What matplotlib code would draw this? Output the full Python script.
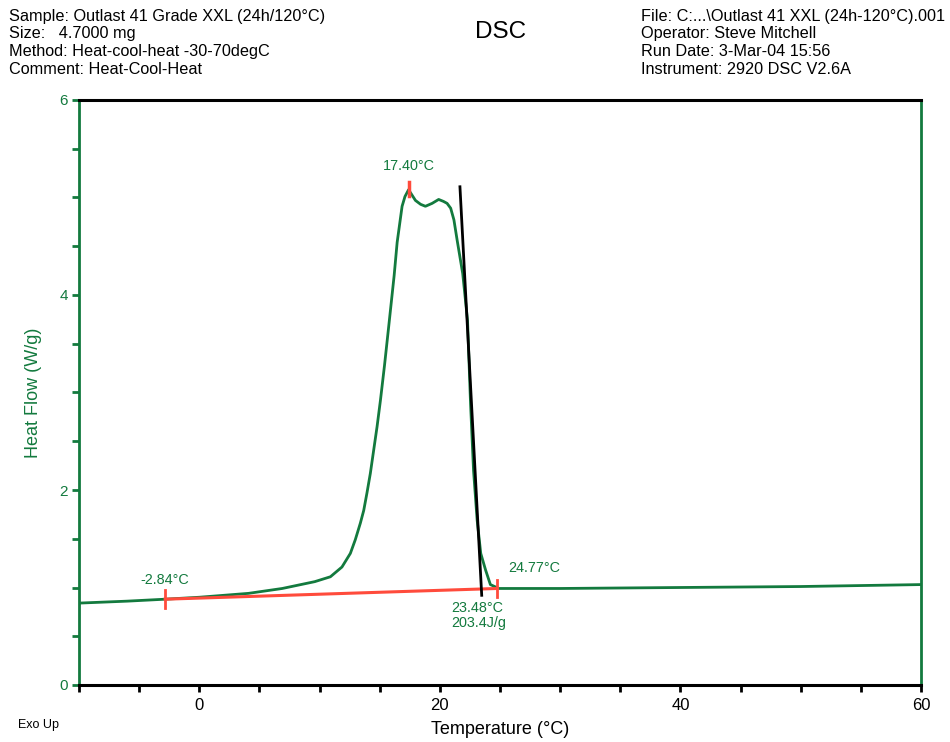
import matplotlib
matplotlib.use("Agg")
import matplotlib.pyplot as plt
from matplotlib.ticker import MultipleLocator
from matplotlib import font_manager

# ---- data ----
temperature = [-10, -6, -2.84, 0, 4.1, 6.9, 9.6, 10.9, 11.86, 12.56, 12.97, 13.39, 13.67,
               13.94, 14.22, 14.5, 14.78, 15.06, 15.4, 15.75, 16.2, 16.45, 16.86, 17.1,
               17.4, 17.97, 18.4, 18.8, 19.36, 19.9, 20.3, 20.6, 20.9, 21.17, 21.44,
               21.9, 22.3, 22.55, 22.8, 23.1, 23.4, 23.8, 24.2, 24.9, 30, 40, 50, 60]
heat_flow = [0.84, 0.86, 0.88, 0.90, 0.94, 0.99, 1.06, 1.11, 1.21, 1.35, 1.49, 1.66, 1.79,
             1.97, 2.17, 2.41, 2.65, 2.92, 3.28, 3.68, 4.20, 4.54, 4.91, 5.01,
             5.08, 4.97, 4.93, 4.91, 4.94, 4.98, 4.96, 4.94, 4.89, 4.77, 4.56,
             4.22, 3.74, 2.89, 2.2, 1.69, 1.35, 1.18, 1.03, 0.99, 0.99, 1.0, 1.01, 1.03]
baseline_T = [-2.84, 24.77]
baseline_HF = [0.88, 0.99]
tangent_T = [21.67, 23.48]
tangent_HF = [5.11, 0.92]
peak_T, peak_HF = 17.40, 5.09
x_ticks = [0, 20, 40, 60]
y_ticks = [0, 2, 4, 6]
header_left = ["Sample: Outlast 41 Grade XXL (24h/120°C)", "Size:   4.7000 mg",
               "Method: Heat-cool-heat -30-70degC", "Comment: Heat-Cool-Heat"]
header_right = ["File: C:...\\Outlast 41 XXL (24h-120°C).001", "Operator: Steve Mitchell",
                "Run Date: 3-Mar-04 15:56", "Instrument: 2920 DSC V2.6A"]

GREEN = "#137a3e"
RED = "#ff4b3c"

names = {f.name for f in font_manager.fontManager.ttflist}
main_font = "Liberation Sans" if "Liberation Sans" in names else "DejaVu Sans"
narrow_font = "Liberation Sans Narrow" if "Liberation Sans Narrow" in names else main_font
plt.rcParams['font.family'] = [main_font, 'DejaVu Sans']

fig = plt.figure(figsize=(9.5, 7.42), dpi=100)
ax = fig.add_axes([79/950, 57/742, 842/950, 585/742])

ax.plot(temperature, heat_flow, color=GREEN, lw=2, zorder=3,
        solid_joinstyle='round', solid_capstyle='round')
ax.plot(baseline_T, baseline_HF, color=RED, lw=2.2, zorder=4)
for t, h in zip(baseline_T, baseline_HF):
    ax.plot([t, t], [h - 0.09, h + 0.09], color=RED, lw=2, zorder=4)
ax.plot([peak_T, peak_T], [peak_HF - 0.07, peak_HF + 0.07], color=RED, lw=2.5, zorder=4)
ax.plot(tangent_T, tangent_HF, color="black", lw=2, zorder=5)

ax.set_xlim(-10, 60)
ax.set_ylim(0, 6)
ax.xaxis.set_minor_locator(MultipleLocator(5))
ax.yaxis.set_minor_locator(MultipleLocator(0.5))
ax.set_xticks(x_ticks)
ax.set_yticks(y_ticks)

ax.tick_params(axis='x', which='both', direction='out', length=5, width=2, colors='black',
               labelsize=12, pad=4)
ax.tick_params(axis='y', which='both', direction='out', length=5, width=2, colors=GREEN,
               labelsize=11, pad=3)
for lab in ax.get_xticklabels():
    lab.set_family([narrow_font, 'DejaVu Sans'])

for s in ['top', 'bottom']:
    ax.spines[s].set_color('black')
    ax.spines[s].set_linewidth(2.2)
for s in ['left', 'right']:
    ax.spines[s].set_color(GREEN)
    ax.spines[s].set_linewidth(2)

ax.set_ylabel("Heat Flow (W/g)", color=GREEN, fontsize=13)
ax.yaxis.set_label_coords(-(79 - 33) / 842, 0.5)
ax.yaxis.label.set_va('center')
ax.set_xlabel("Temperature (°C)", color='black', fontsize=13)
ax.xaxis.set_label_coords(0.5, -(729 - 685) / 585)
ax.xaxis.label.set_va('center')

# annotations
ax.annotate("17.40°C", xy=(peak_T, peak_HF), xytext=(0, 11), textcoords='offset points',
            ha='center', va='bottom', color=GREEN, fontsize=10.4)
ax.annotate("-2.84°C", xy=(baseline_T[0], baseline_HF[0]), xytext=(0, 9),
            textcoords='offset points', ha='center', va='bottom', color=GREEN, fontsize=10.4)
ax.annotate("24.77°C", xy=(baseline_T[1], baseline_HF[1]), xytext=(8, 10),
            textcoords='offset points', ha='left', va='bottom', color=GREEN, fontsize=10.4)
ax.annotate("23.48°C\n203.4J/g", xy=(tangent_T[1], 0.985), xytext=(-22, -9),
            textcoords='offset points', ha='left', va='top', color=GREEN, fontsize=10.4,
            linespacing=1.05)

# header
for i, line in enumerate(header_left):
    fig.text(9/950, 1 - (16 + 17.8 * i)/742, line, ha='left', va='center', fontsize=11.7)
for i, line in enumerate(header_right):
    fig.text(641/950, 1 - (16 + 17.8 * i)/742, line, ha='left', va='center', fontsize=11.7)
fig.text(501/950, 1 - 32/742, "DSC", ha='center', va='center', fontsize=17.5)
fig.text(18/950, 1 - 725/742, "Exo Up", ha='left', va='center', fontsize=9,
         family=[narrow_font, 'DejaVu Sans'])

fig.savefig("out.png", dpi=100)
